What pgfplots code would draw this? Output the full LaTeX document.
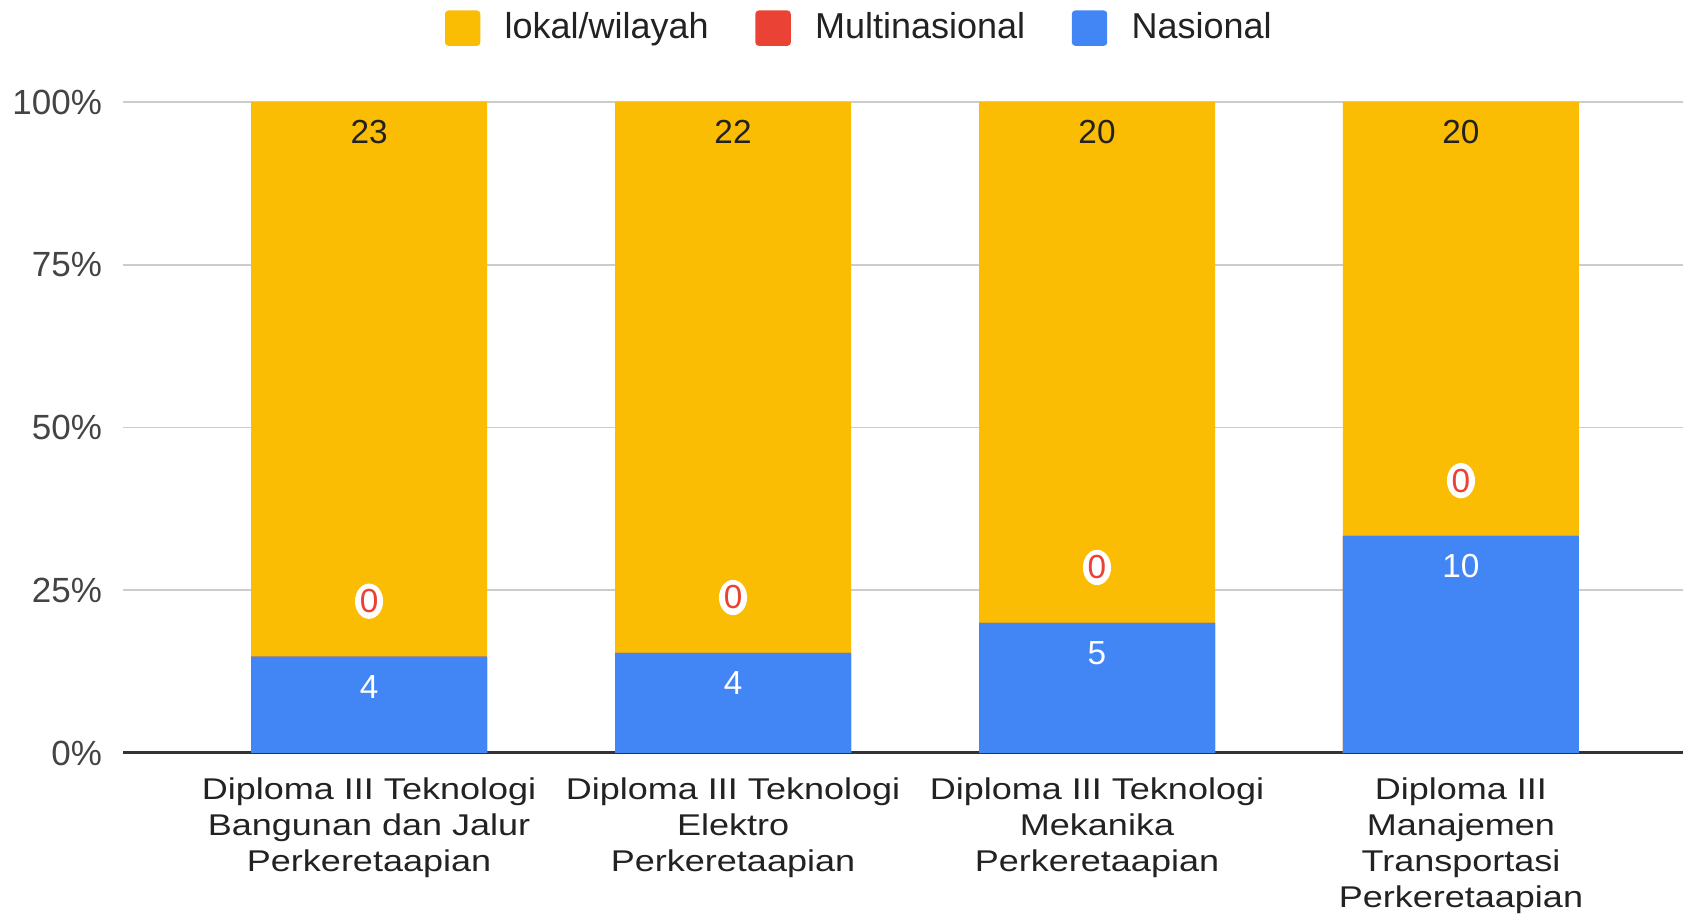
\documentclass[border=0pt]{standalone}
\usepackage{pgfplots}
\pgfplotsset{compat=1.18}
\usepackage{pgfplotstable}
\usetikzlibrary{shapes.geometric}
\usepackage{fontspec}
\setmainfont{Liberation Sans}
\newfontfamily\wide{Liberation Sans}[FakeStretch=1.2]
\definecolor{gy}{HTML}{FBBC04}
\definecolor{gr}{HTML}{EA4335}
\definecolor{gb}{HTML}{4285F4}
\definecolor{txt}{HTML}{222222}
\definecolor{tickc}{HTML}{444444}
% counts per programme: Nasional, Multinasional, lokal/wilayah
\pgfplotstableread{
cat nas multi lokal
0 4 0 23
1 4 0 22
2 5 0 20
3 10 0 20
}\data
\begin{document}
\begin{tikzpicture}
\useasboundingbox (-36.9pt,-48.6pt) rectangle (468pt,225.9pt);
\begin{axis}[
  at={(0,0)}, anchor=south west,
  scale only axis, width=468pt, height=195.3pt,
  xmin=-0.676, xmax=3.61, ymin=0, ymax=100,
  ybar=0pt, bar shift=0pt, bar width=70.8pt,
  /pgf/number format/assume math mode=true,
  axis x line*=bottom, axis y line*=left,
  x axis line style={draw=black!80, line width=0.9pt},
  y axis line style={draw=none},
  xtick={0,1,2,3}, ytick={0,25,50,75,100},
  yticklabels={0\%,25\%,50\%,75\%,100\%},
  ymajorgrids, major grid style={draw=black!20, line width=0.5pt},
  major tick length=0pt,
  xticklabels={{Diploma III Teknologi\\Bangunan dan Jalur\\Perkeretaapian},
    {Diploma III Teknologi\\Elektro\\Perkeretaapian},
    {Diploma III Teknologi\\Mekanika\\Perkeretaapian},
    {Diploma III\\Manajemen\\Transportasi\\Perkeretaapian}},
  xticklabel style={font=\wide\fontsize{9pt}{10.8pt}\selectfont, align=center, text=txt, yshift=-3.85pt},
  yticklabel style={font=\fontsize{10.5pt}{12pt}\selectfont, text=tickc, xshift=-2.8pt},
  clip=false,
  legend columns=-1,
  legend style={draw=none, fill=none, at={(0.4735,1.1134)}, anchor=center,
    font=\fontsize{10.8pt}{12.5pt}\selectfont, text=txt,
    /tikz/every even column/.append style={column sep=12pt}},
  legend image code/.code={\fill[#1, draw=none, rounded corners=1pt] (0pt,-5.3pt) rectangle (10.6pt,5.3pt); \path (15.9pt,0pt);},
  point meta=explicit,
]
% lokal/wilayah: full column (cumulative total = 100%)
\addplot[fill=gy, draw=none, nodes near coords,
  every node near coord/.style={anchor=center, yshift=-9pt, text=txt, font=\fontsize{10pt}{12pt}\selectfont}]
  table[x=cat, y expr={100*(\thisrow{nas}+\thisrow{multi}+\thisrow{lokal})/(\thisrow{nas}+\thisrow{multi}+\thisrow{lokal})}, meta=lokal] {\data};
\addlegendentry{lokal/wilayah}
% Multinasional: cumulative nas+multi
\addplot[fill=gr, draw=none, nodes near coords,
  every node near coord/.style={anchor=center, yshift=16.6pt, text=gr,
    fill=white, ellipse, inner sep=0.2pt, font=\fontsize{10pt}{12pt}\selectfont}]
  table[x=cat, y expr={100*(\thisrow{nas}+\thisrow{multi})/(\thisrow{nas}+\thisrow{multi}+\thisrow{lokal})}, meta=multi] {\data};
\addlegendentry{Multinasional}
% Nasional
\addplot[fill=gb, draw=none, nodes near coords,
  every node near coord/.style={anchor=center, yshift=-9pt, text=white, font=\fontsize{10pt}{12pt}\selectfont}]
  table[x=cat, y expr={100*\thisrow{nas}/(\thisrow{nas}+\thisrow{multi}+\thisrow{lokal})}, meta=nas] {\data};
\addlegendentry{Nasional}
\end{axis}
\end{tikzpicture}
\end{document}
